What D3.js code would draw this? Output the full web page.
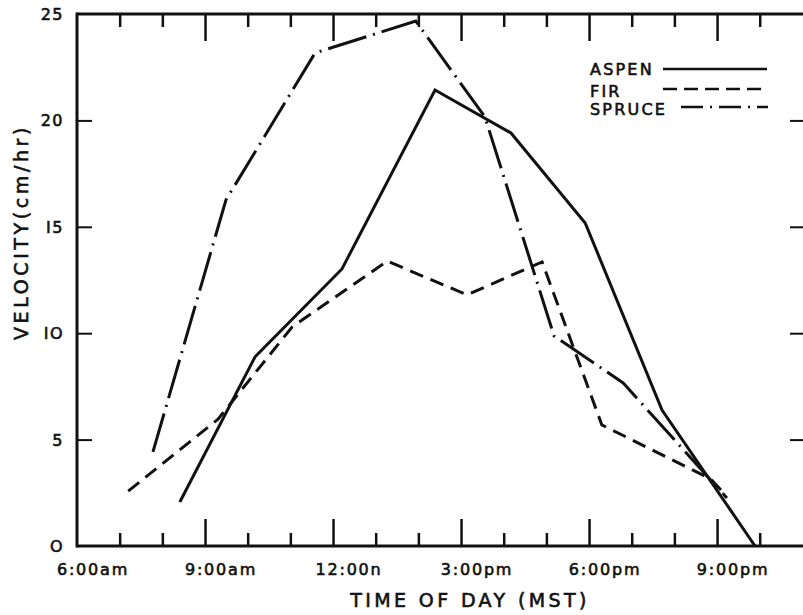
<!DOCTYPE html>
<html><head><meta charset="utf-8">
<script src="https://cdn.jsdelivr.net/npm/d3@7/dist/d3.min.js"></script>
<style>
html,body{margin:0;padding:0;background:#fff;}
text{font-family:"DejaVu Sans",sans-serif;fill:#111;stroke:#111;stroke-width:0.6px;}
</style></head>
<body>
<svg id="chart" width="803" height="615"></svg>
<script>
// hours of day (decimal) and velocity (cm/hr)
const aspenHours = [8.41, 10.17, 12.21, 14.39, 16.17, 17.91, 19.71, 21.89];
const aspenVel   = [2.07, 8.88, 13.02, 21.43, 19.41, 15.18, 6.39, 0.0];
const firHours   = [7.20, 9.30, 11.04, 13.27, 15.14, 16.90, 18.30, 20.85, 21.15];
const firVel     = [2.58, 5.95, 10.29, 13.39, 11.80, 13.35, 5.69, 3.15, 2.5];
const spruceHours = [7.78, 9.49, 11.58, 13.94, 15.56, 17.18, 18.80, 21.23];
const spruceVel   = [4.42, 16.26, 23.17, 24.67, 20.16, 9.87, 7.66, 2.26];

const seriesNames = ["ASPEN", "FIR", "SPRUCE"];
const xMinorTicks = [7, 8, 10, 11, 13, 14, 16, 17, 19, 20, 22];
const xMajorTicks = [9, 12, 15, 18, 21];
const xLabelHours = [6, 9, 12, 15, 18, 21];
const xLabels = ["6:00am", "9:00am", "12:00n", "3:00pm", "6:00pm", "9:00pm"];
const yTicks = [0, 5, 10, 15, 20, 25];
const yLabels = ["O", "5", "IO", "I5", "20", "25"];

const svg = d3.select("#chart");
const x = d3.scaleLinear().domain([6, 23]).range([77, 802.4]);
const y = d3.scaleLinear().domain([0, 25]).range([546, 14]);

const ink = "#111";

// Axes frame
svg.append("line").attr("x1", x(6)).attr("x2", 803).attr("y1", y(0)).attr("y2", y(0))
  .attr("stroke", ink).attr("stroke-width", 3);
svg.append("line").attr("x1", x(6)).attr("x2", 803).attr("y1", y(25)).attr("y2", y(25))
  .attr("stroke", ink).attr("stroke-width", 3);
svg.append("line").attr("x1", x(6)).attr("x2", x(6)).attr("y1", y(25) - 1.5).attr("y2", y(0) + 1.5)
  .attr("stroke", ink).attr("stroke-width", 3);

// bottom ticks (pointing up) and top ticks (pointing down)
function tickGroup(vals, len) {
  const gB = svg.append("g").attr("transform", `translate(0,${y(0)})`)
    .call(d3.axisBottom(x).tickValues(vals).tickSize(-len).tickFormat(""));
  const gT = svg.append("g").attr("transform", `translate(0,${y(25)})`)
    .call(d3.axisTop(x).tickValues(vals).tickSize(-len).tickFormat(""));
  [gB, gT].forEach(g => {
    g.select(".domain").remove();
    g.selectAll(".tick line").attr("stroke", ink).attr("stroke-width", 2.5);
  });
}
tickGroup(xMinorTicks, 13);
tickGroup(xMajorTicks, 27);

// left ticks (pointing right) and right ticks (pointing left)
const gL = svg.append("g").attr("transform", `translate(${x(6)},0)`)
  .call(d3.axisLeft(y).tickValues(yTicks.slice(1, 5)).tickSize(-15).tickFormat(""));
const gR = svg.append("g").attr("transform", `translate(803,0)`)
  .call(d3.axisRight(y).tickValues(yTicks.slice(1, 5)).tickSize(-13).tickFormat(""));
[gL, gR].forEach(g => {
  g.select(".domain").remove();
  g.selectAll(".tick line").attr("stroke", ink).attr("stroke-width", 2);
});

// y tick labels
svg.append("g").selectAll("text").data(yTicks).join("text")
  .attr("x", 64).attr("y", d => y(d) + 6)
  .attr("text-anchor", "end")
  .style("font-size", "16px").style("letter-spacing", "1.5px")
  .text((d, i) => yLabels[i]);

// x tick labels
svg.append("g").selectAll("text").data(xLabelHours).join("text")
  .attr("x", d => x(d) + 16).attr("y", 575)
  .attr("text-anchor", "middle")
  .style("font-size", "16px").style("letter-spacing", "1.8px")
  .text((d, i) => xLabels[i]);

// axis titles
svg.append("text").attr("x", 470).attr("y", 607).attr("text-anchor", "middle")
  .style("font-size", "19px").style("letter-spacing", "3.4px")
  .text("TIME OF DAY (MST)");
svg.append("text").attr("transform", "translate(28,232) rotate(-90)").attr("text-anchor", "middle")
  .style("font-size", "19px").style("letter-spacing", "3.6px")
  .text("VELOCITY(cm/hr)");

// series
const dashes = ["none", "14,8", "40,7,2,7"];
const series = [
  aspenHours.map((h, i) => [h, aspenVel[i]]),
  firHours.map((h, i) => [h, firVel[i]]),
  spruceHours.map((h, i) => [h, spruceVel[i]])
];
const line = d3.line().x(d => x(d[0])).y(d => y(d[1]));
svg.append("g").selectAll("path").data(series).join("path")
  .attr("d", line)
  .attr("fill", "none").attr("stroke", ink).attr("stroke-width", 3)
  .attr("stroke-linejoin", "miter")
  .attr("stroke-dasharray", (d, i) => dashes[i]);

// legend
const legY = [75, 97, 115];
const legLine = [[663, 767, 69], [663, 767, 89], [681, 768, 107]];
const legDash = ["none", "14,7", "22,7,2,7"];
const leg = svg.append("g");
leg.selectAll("text").data(seriesNames).join("text")
  .attr("x", 590).attr("y", (d, i) => legY[i])
  .style("font-size", "16px").style("letter-spacing", "2.2px")
  .text(d => d);
leg.selectAll("line").data(seriesNames).join("line")
  .attr("x1", (d, i) => legLine[i][0]).attr("x2", (d, i) => legLine[i][1])
  .attr("y1", (d, i) => legLine[i][2]).attr("y2", (d, i) => legLine[i][2])
  .attr("stroke", ink).attr("stroke-width", 2.5)
  .attr("stroke-dasharray", (d, i) => legDash[i]);
</script>
</body></html>
